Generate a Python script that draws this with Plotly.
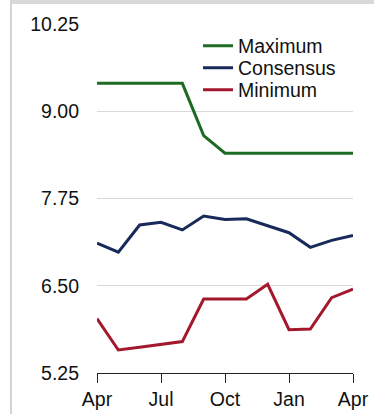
import plotly.graph_objects as go

months = ["Apr", "May", "Jun", "Jul", "Aug", "Sep", "Oct", "Nov", "Dec", "Jan", "Feb", "Mar", "Apr"]
x_idx = list(range(len(months)))
maximum = [9.40, 9.40, 9.40, 9.40, 9.40, 8.65, 8.40, 8.40, 8.40, 8.40, 8.40, 8.40, 8.40]
consensus = [7.11, 6.98, 7.37, 7.41, 7.30, 7.50, 7.45, 7.46, 7.36, 7.26, 7.05, 7.15, 7.22]
minimum = [6.03, 5.58, 5.62, 5.66, 5.70, 6.31, 6.31, 6.31, 6.52, 5.87, 5.88, 6.33, 6.45]
y_ticks = [5.25, 6.50, 7.75, 9.00, 10.25]
tick_idx = [0, 3, 6, 9, 12]

FONT = "Liberation Sans, Arial, sans-serif"
FS = 19.5
fig = go.Figure()
series = [("Maximum", maximum, "#1e6b24", "legend"),
          ("Consensus", consensus, "#172a5a", "legend2"),
          ("Minimum", minimum, "#a3182c", "legend3")]
for name, vals, col, lg in series:
    fig.add_trace(go.Scatter(x=x_idx, y=vals, mode="lines", name=name,
                             line=dict(color=col, width=3), legend=lg))

W, H = 374, 414
l, r, t, b = 97, 21, 24, 41
pw, ph = W - l - r, H - t - b

def px2x(px):
    return (px - l) / pw

def py2y(py):
    return (H - b - py) / ph

leg_common = dict(font=dict(family=FONT, size=FS, color="#111"), bgcolor="rgba(0,0,0,0)",
                  x=px2x(198), xanchor="left", yanchor="middle", borderwidth=0)
fig.update_layout(
    width=W, height=H, margin=dict(l=l, r=r, t=t, b=b, autoexpand=False),
    paper_bgcolor="white", plot_bgcolor="white",
    font=dict(family=FONT, size=FS, color="#111"),
    showlegend=True,
    legend=dict(y=py2y(46), **leg_common),
    legend2=dict(y=py2y(68), **leg_common),
    legend3=dict(y=py2y(90), **leg_common),
    xaxis=dict(range=[0, 12], tickmode="array", tickvals=tick_idx,
               ticktext=[months[i] for i in tick_idx], automargin=False,
               showgrid=False, zeroline=False, showline=True, linecolor="#222", linewidth=1,
               ticks="outside", ticklen=9, tickcolor="#222", tickwidth=1,
               tickfont=dict(family=FONT, size=FS, color="#111")),
    yaxis=dict(range=[5.25, 10.25], tickmode="array", tickvals=y_ticks,
               ticktext=[f"{v:.2f}" for v in y_ticks], automargin=False,
               showgrid=True, gridcolor="#d9d9d9", gridwidth=1, zeroline=False,
               showline=False, ticks="", ticklabelstandoff=17,
               tickfont=dict(family=FONT, size=FS, color="#111")),
    shapes=[
        dict(type="rect", xref="paper", yref="paper", x0=px2x(10), x1=px2x(380),
             y0=py2y(4), y1=py2y(-2), fillcolor="#d9d9d9", line=dict(width=0), layer="above"),
        dict(type="line", xref="paper", yref="paper", x0=px2x(11), x1=px2x(11),
             y0=py2y(0), y1=py2y(420), line=dict(color="#d4d4d4", width=2)),
    ],
)
fig.write_html("out.html")
